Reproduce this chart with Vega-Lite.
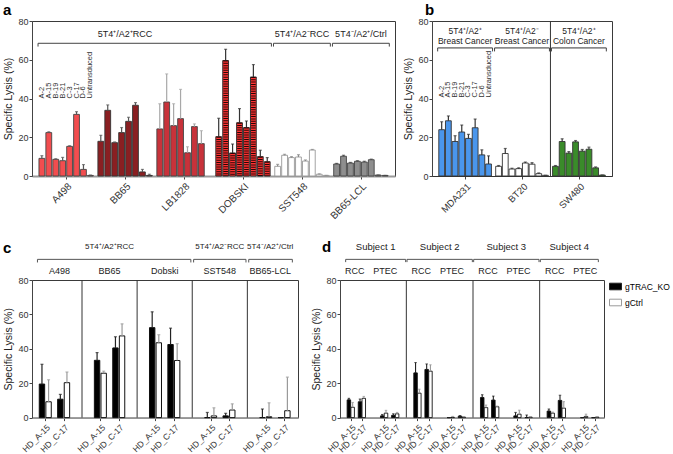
{
  "$schema": "https://vega.github.io/schema/vega-lite/v6.json",
  "padding": {"left": 2, "top": 2, "right": 0, "bottom": 0},
  "config": {
    "font": "Liberation Sans",
    "view": {"stroke": "#3a3a3a", "strokeWidth": 1},
    "axis": {"grid": false, "labelFont": "Liberation Sans", "titleFont": "Liberation Sans", "labelColor": "#333", "titleColor": "#222", "domainColor": "#444", "tickColor": "#444", "tickSize": 3, "labelFontSize": 9, "titleFontSize": 10.5, "titleFontWeight": "normal", "labelPadding": 1, "titlePadding": 4},
    "text": {"font": "Liberation Sans", "color": "#222"},
    "title": {"font": "Liberation Sans", "color": "#000"}
  },
  "datasets": {
    "a": [
      {"line": "A498", "clone": "A-2", "lysis": 9.1, "upper": 10.5},
      {"line": "A498", "clone": "A-15", "lysis": 22.4, "upper": 22.8},
      {"line": "A498", "clone": "B-19", "lysis": 8.6, "upper": 8.9},
      {"line": "A498", "clone": "B-21", "lysis": 7.9, "upper": 9.6},
      {"line": "A498", "clone": "C-3", "lysis": 15.3, "upper": 15.6},
      {"line": "A498", "clone": "C-17", "lysis": 31.8, "upper": 33.2},
      {"line": "A498", "clone": "D-6", "lysis": 3.4, "upper": 5.9},
      {"line": "A498", "clone": "Untransduced", "lysis": 0.3, "upper": 0.5},
      {"line": "BB65", "clone": "A-2", "lysis": 17.9, "upper": 21},
      {"line": "BB65", "clone": "A-15", "lysis": 33.9, "upper": 36.7},
      {"line": "BB65", "clone": "B-19", "lysis": 17.2, "upper": 17.6},
      {"line": "BB65", "clone": "B-21", "lysis": 22.4, "upper": 25},
      {"line": "BB65", "clone": "C-3", "lysis": 28.2, "upper": 30.3},
      {"line": "BB65", "clone": "C-17", "lysis": 36.5, "upper": 37.9},
      {"line": "BB65", "clone": "D-6", "lysis": 2.1, "upper": 3.4},
      {"line": "BB65", "clone": "Untransduced", "lysis": 0.3, "upper": 0.9},
      {"line": "LB1828", "clone": "A-2", "lysis": 24.3, "upper": 37.3},
      {"line": "LB1828", "clone": "A-15", "lysis": 38.2, "upper": 52.7},
      {"line": "LB1828", "clone": "B-19", "lysis": 26, "upper": 37.3},
      {"line": "LB1828", "clone": "B-21", "lysis": 29.6, "upper": 44.7},
      {"line": "LB1828", "clone": "C-3", "lysis": 12, "upper": 15.1},
      {"line": "LB1828", "clone": "C-17", "lysis": 25.5, "upper": 26.9},
      {"line": "LB1828", "clone": "D-6", "lysis": 16.7, "upper": 23.4},
      {"line": "DOBSKI", "clone": "A-2", "lysis": 20.3, "upper": 29.8},
      {"line": "DOBSKI", "clone": "A-15", "lysis": 59.6, "upper": 65.4},
      {"line": "DOBSKI", "clone": "B-19", "lysis": 11.9, "upper": 16.5},
      {"line": "DOBSKI", "clone": "B-21", "lysis": 27.5, "upper": 34.8},
      {"line": "DOBSKI", "clone": "C-3", "lysis": 25, "upper": 28.4},
      {"line": "DOBSKI", "clone": "C-17", "lysis": 51.1, "upper": 57.5},
      {"line": "DOBSKI", "clone": "D-6", "lysis": 10, "upper": 13.3},
      {"line": "DOBSKI", "clone": "Untransduced", "lysis": 7.4, "upper": 9.5},
      {"line": "SST548", "clone": "A-2", "lysis": 5, "upper": 6},
      {"line": "SST548", "clone": "A-15", "lysis": 10.7, "upper": 11.2},
      {"line": "SST548", "clone": "B-19", "lysis": 9.5, "upper": 10},
      {"line": "SST548", "clone": "B-21", "lysis": 9.8, "upper": 11},
      {"line": "SST548", "clone": "C-3", "lysis": 7.7, "upper": 8.3},
      {"line": "SST548", "clone": "C-17", "lysis": 13.4, "upper": 13.7},
      {"line": "SST548", "clone": "D-6", "lysis": 0.9, "upper": 1.1},
      {"line": "SST548", "clone": "Untransduced", "lysis": 0.3, "upper": 0.3},
      {"line": "BB65-LCL", "clone": "A-2", "lysis": 6.2, "upper": 6.5},
      {"line": "BB65-LCL", "clone": "A-15", "lysis": 10.2, "upper": 10.7},
      {"line": "BB65-LCL", "clone": "B-19", "lysis": 6.7, "upper": 7},
      {"line": "BB65-LCL", "clone": "B-21", "lysis": 7.6, "upper": 7.9},
      {"line": "BB65-LCL", "clone": "C-3", "lysis": 7.2, "upper": 7.6},
      {"line": "BB65-LCL", "clone": "C-17", "lysis": 8.4, "upper": 8.7},
      {"line": "BB65-LCL", "clone": "D-6", "lysis": 0.5, "upper": 0.5},
      {"line": "BB65-LCL", "clone": "Untransduced", "lysis": 0.3, "upper": 0.3}
    ],
    "hdrA": [
      {"label": "5T4⁺/A2⁺RCC", "from": "A498", "to": "DOBSKI", "over": "BB65"},
      {"label": "5T4⁺/A2⁻RCC", "from": "SST548", "to": "SST548", "over": "SST548"},
      {"label": "5T4⁻/A2⁺/Ctrl", "from": "BB65-LCL", "to": "BB65-LCL", "over": "BB65-LCL"}
    ],
    "b": [
      {"line": "MDA231", "clone": "A-2", "lysis": 23.9, "upper": 28},
      {"line": "MDA231", "clone": "A-15", "lysis": 28.5, "upper": 31},
      {"line": "MDA231", "clone": "B-19", "lysis": 17.8, "upper": 20.8},
      {"line": "MDA231", "clone": "B-21", "lysis": 22.7, "upper": 26.3},
      {"line": "MDA231", "clone": "C-3", "lysis": 19.4, "upper": 21.5},
      {"line": "MDA231", "clone": "C-17", "lysis": 24.9, "upper": 29.4},
      {"line": "MDA231", "clone": "D-6", "lysis": 10.9, "upper": 13.5},
      {"line": "MDA231", "clone": "Untransduced", "lysis": 6.2, "upper": 10.4},
      {"line": "BT20", "clone": "A-2", "lysis": 5, "upper": 5.4},
      {"line": "BT20", "clone": "A-15", "lysis": 11.6, "upper": 14.2},
      {"line": "BT20", "clone": "B-19", "lysis": 3.6, "upper": 4},
      {"line": "BT20", "clone": "B-21", "lysis": 3.8, "upper": 4.2},
      {"line": "BT20", "clone": "C-3", "lysis": 6.7, "upper": 7.2},
      {"line": "BT20", "clone": "C-17", "lysis": 6.1, "upper": 6.9},
      {"line": "BT20", "clone": "D-6", "lysis": 1.2, "upper": 1.6},
      {"line": "BT20", "clone": "Untransduced", "lysis": 0.35, "upper": 0.35},
      {"line": "SW480", "clone": "A-2", "lysis": 5, "upper": 5.4},
      {"line": "SW480", "clone": "A-15", "lysis": 17.8, "upper": 19.2},
      {"line": "SW480", "clone": "B-19", "lysis": 11.8, "upper": 12.6},
      {"line": "SW480", "clone": "B-21", "lysis": 17.6, "upper": 18.3},
      {"line": "SW480", "clone": "C-3", "lysis": 12.8, "upper": 13.7},
      {"line": "SW480", "clone": "C-17", "lysis": 13.8, "upper": 14.9},
      {"line": "SW480", "clone": "D-6", "lysis": 4.2, "upper": 4.7},
      {"line": "SW480", "clone": "Untransduced", "lysis": 0.5, "upper": 0.5}
    ],
    "hdrB": [
      {"l1": "5T4⁺/A2⁺", "l2": "Breast Cancer", "line": "MDA231"},
      {"l1": "5T4⁺/A2⁻", "l2": "Breast Cancer", "line": "BT20"},
      {"l1": "5T4⁺/A2⁺", "l2": "Colon Cancer", "line": "SW480"}
    ],
    "c": [
      {"line": "A498", "target": "HD_A-15", "ko": "gTRAC_KO", "lysis": 19.5, "upper": 31},
      {"line": "A498", "target": "HD_A-15", "ko": "gCtrl", "lysis": 9.2, "upper": 22},
      {"line": "A498", "target": "HD_C-17", "ko": "gTRAC_KO", "lysis": 10.7, "upper": 13.5},
      {"line": "A498", "target": "HD_C-17", "ko": "gCtrl", "lysis": 20.3, "upper": 26.5},
      {"line": "BB65", "target": "HD_A-15", "ko": "gTRAC_KO", "lysis": 33.3, "upper": 37.8},
      {"line": "BB65", "target": "HD_A-15", "ko": "gCtrl", "lysis": 25.8, "upper": 27},
      {"line": "BB65", "target": "HD_C-17", "ko": "gTRAC_KO", "lysis": 40.5, "upper": 47},
      {"line": "BB65", "target": "HD_C-17", "ko": "gCtrl", "lysis": 47.5, "upper": 54.5},
      {"line": "Dobski", "target": "HD_A-15", "ko": "gTRAC_KO", "lysis": 52.3, "upper": 61.5},
      {"line": "Dobski", "target": "HD_A-15", "ko": "gCtrl", "lysis": 43.5, "upper": 48.2},
      {"line": "Dobski", "target": "HD_C-17", "ko": "gTRAC_KO", "lysis": 42.5, "upper": 52},
      {"line": "Dobski", "target": "HD_C-17", "ko": "gCtrl", "lysis": 33.2, "upper": 43},
      {"line": "SST548", "target": "HD_A-15", "ko": "gTRAC_KO", "lysis": 0, "upper": 3},
      {"line": "SST548", "target": "HD_A-15", "ko": "gCtrl", "lysis": 1, "upper": 5.7},
      {"line": "SST548", "target": "HD_C-17", "ko": "gTRAC_KO", "lysis": 1, "upper": 2.5},
      {"line": "SST548", "target": "HD_C-17", "ko": "gCtrl", "lysis": 4.4, "upper": 8},
      {"line": "BB65-LCL", "target": "HD_A-15", "ko": "gTRAC_KO", "lysis": 0, "upper": 5},
      {"line": "BB65-LCL", "target": "HD_A-15", "ko": "gCtrl", "lysis": 0.5, "upper": 8.6},
      {"line": "BB65-LCL", "target": "HD_C-17", "ko": "gTRAC_KO", "lysis": 0, "upper": 0},
      {"line": "BB65-LCL", "target": "HD_C-17", "ko": "gCtrl", "lysis": 4, "upper": 23.5}
    ],
    "hdrC": [
      {"label": "5T4⁺/A2⁺RCC", "from": "A498", "to": "Dobski", "over": "BB65"},
      {"label": "5T4⁺/A2⁻RCC", "from": "SST548", "to": "SST548", "over": "SST548"},
      {"label": "5T4⁻/A2⁺/Ctrl", "from": "BB65-LCL", "to": "BB65-LCL", "over": "BB65-LCL"}
    ],
    "d": [
      {"subject": "Subject 1", "tissue": "RCC", "target": "HD_A-15", "ko": "gTRAC_KO", "lysis": 10.3, "upper": 11.2},
      {"subject": "Subject 1", "tissue": "RCC", "target": "HD_A-15", "ko": "gCtrl", "lysis": 6, "upper": 8.8},
      {"subject": "Subject 1", "tissue": "RCC", "target": "HD_C-17", "ko": "gTRAC_KO", "lysis": 9.2, "upper": 10.8},
      {"subject": "Subject 1", "tissue": "RCC", "target": "HD_C-17", "ko": "gCtrl", "lysis": 11.2, "upper": 12.3},
      {"subject": "Subject 1", "tissue": "PTEC", "target": "HD_A-15", "ko": "gTRAC_KO", "lysis": 1, "upper": 1.8},
      {"subject": "Subject 1", "tissue": "PTEC", "target": "HD_A-15", "ko": "gCtrl", "lysis": 2.6, "upper": 4.2},
      {"subject": "Subject 1", "tissue": "PTEC", "target": "HD_C-17", "ko": "gTRAC_KO", "lysis": 1.3, "upper": 2.2},
      {"subject": "Subject 1", "tissue": "PTEC", "target": "HD_C-17", "ko": "gCtrl", "lysis": 2.2, "upper": 3},
      {"subject": "Subject 2", "tissue": "RCC", "target": "HD_A-15", "ko": "gTRAC_KO", "lysis": 26, "upper": 32},
      {"subject": "Subject 2", "tissue": "RCC", "target": "HD_A-15", "ko": "gCtrl", "lysis": 14.2, "upper": 16.5},
      {"subject": "Subject 2", "tissue": "RCC", "target": "HD_C-17", "ko": "gTRAC_KO", "lysis": 28, "upper": 31.2},
      {"subject": "Subject 2", "tissue": "RCC", "target": "HD_C-17", "ko": "gCtrl", "lysis": 27, "upper": 30.7},
      {"subject": "Subject 2", "tissue": "PTEC", "target": "HD_A-15", "ko": "gTRAC_KO", "lysis": 0, "upper": 0},
      {"subject": "Subject 2", "tissue": "PTEC", "target": "HD_A-15", "ko": "gCtrl", "lysis": 0.2, "upper": 0.7},
      {"subject": "Subject 2", "tissue": "PTEC", "target": "HD_C-17", "ko": "gTRAC_KO", "lysis": 0.8, "upper": 1.2},
      {"subject": "Subject 2", "tissue": "PTEC", "target": "HD_C-17", "ko": "gCtrl", "lysis": 0.3, "upper": 0.5},
      {"subject": "Subject 3", "tissue": "RCC", "target": "HD_A-15", "ko": "gTRAC_KO", "lysis": 11.7, "upper": 13.3},
      {"subject": "Subject 3", "tissue": "RCC", "target": "HD_A-15", "ko": "gCtrl", "lysis": 5.8, "upper": 7.3},
      {"subject": "Subject 3", "tissue": "RCC", "target": "HD_C-17", "ko": "gTRAC_KO", "lysis": 10.2, "upper": 12.5},
      {"subject": "Subject 3", "tissue": "RCC", "target": "HD_C-17", "ko": "gCtrl", "lysis": 6.3, "upper": 6.7},
      {"subject": "Subject 3", "tissue": "PTEC", "target": "HD_A-15", "ko": "gTRAC_KO", "lysis": 1, "upper": 3},
      {"subject": "Subject 3", "tissue": "PTEC", "target": "HD_A-15", "ko": "gCtrl", "lysis": 2, "upper": 4.3},
      {"subject": "Subject 3", "tissue": "PTEC", "target": "HD_C-17", "ko": "gTRAC_KO", "lysis": 0, "upper": 1.5},
      {"subject": "Subject 3", "tissue": "PTEC", "target": "HD_C-17", "ko": "gCtrl", "lysis": 0.3, "upper": 0.4},
      {"subject": "Subject 4", "tissue": "RCC", "target": "HD_A-15", "ko": "gTRAC_KO", "lysis": 3.8, "upper": 5},
      {"subject": "Subject 4", "tissue": "RCC", "target": "HD_A-15", "ko": "gCtrl", "lysis": 2.6, "upper": 3.2},
      {"subject": "Subject 4", "tissue": "RCC", "target": "HD_C-17", "ko": "gTRAC_KO", "lysis": 10, "upper": 13},
      {"subject": "Subject 4", "tissue": "RCC", "target": "HD_C-17", "ko": "gCtrl", "lysis": 5.5, "upper": 9.3},
      {"subject": "Subject 4", "tissue": "PTEC", "target": "HD_A-15", "ko": "gTRAC_KO", "lysis": 0, "upper": 0},
      {"subject": "Subject 4", "tissue": "PTEC", "target": "HD_A-15", "ko": "gCtrl", "lysis": 0.7, "upper": 2},
      {"subject": "Subject 4", "tissue": "PTEC", "target": "HD_C-17", "ko": "gTRAC_KO", "lysis": 0, "upper": 0},
      {"subject": "Subject 4", "tissue": "PTEC", "target": "HD_C-17", "ko": "gCtrl", "lysis": 0.3, "upper": 0.4}
    ]
  },
  "spacing": 17,
  "resolve": {"scale": {"fill": "independent", "stroke": "independent", "color": "independent"}},
  "vconcat": [
    {
      "bounds": "flush",
      "spacing": 37,
      "resolve": {"scale": {"fill": "independent", "stroke": "independent", "color": "independent"}},
      "hconcat": [
        {
          "width": 363, "height": 155,
          "title": {"text": "a", "anchor": "start", "frame": "group", "dx": -29, "offset": -1, "fontSize": 15, "fontWeight": "bold"},
          "layer": [
            {
              "data": {"name": "a"},
              "transform": [{"calculate": "indexof(['A498','BB65','LB1828','DOBSKI','SST548','BB65-LCL'], datum.line)*8.5 + indexof(['A-2','A-15','B-19','B-21','C-3','C-17','D-6','Untransduced'], datum.clone)", "as": "pos"}],
              "layer": [
                {"mark": {"type": "bar", "orient": "vertical", "size": 5.8, "strokeWidth": 0.9},
                 "encoding": {
                   "x": {"field": "pos", "type": "quantitative", "scale": {"domain": [-0.7, 50.2], "nice": false, "zero": false}, "axis": {"values": [3.5, 12, 20.5, 29, 37.5, 46], "tickCount": 50, "labelExpr": "['A498','BB65','LB1828','DOBSKI','SST548','BB65-LCL'][round((datum.value-3.5)/8.5)]", "labelAngle": -45, "labelAlign": "right", "labelBaseline": "top", "labelFontSize": 10, "title": null, "domainColor": "#9a9a9a", "domainWidth": 2, "labelPadding": 2, "labelOverlap": false}},
                   "y": {"field": "lysis", "type": "quantitative", "scale": {"domain": [0, 80], "nice": false}, "axis": {"values": [0, 20, 40, 60, 80], "tickCount": 50, "title": "Specific Lysis (%)", "labelOverlap": false}},
                   "fill": {"field": "line", "type": "nominal", "scale": {"domain": ["A498","BB65","LB1828","DOBSKI","SST548","BB65-LCL"], "range": ["#f24d4f","#8a1f22","#c8323a","#ff3434","#ffffff","#8e8e8e"]}, "legend": null},
                   "stroke": {"field": "line", "type": "nominal", "scale": {"domain": ["A498","BB65","LB1828","DOBSKI","SST548","BB65-LCL"], "range": ["#444444","#333333","#444444","#222222","#999999","#444444"]}, "legend": null}}},
                {"mark": {"type": "rule", "strokeWidth": 1.2},
                 "encoding": {
                   "x": {"field": "pos", "type": "quantitative"},
                   "y": {"field": "lysis", "type": "quantitative"},
                   "y2": {"field": "upper"},
                   "color": {"field": "line", "type": "nominal", "scale": {"domain": ["A498","BB65","LB1828","DOBSKI","SST548","BB65-LCL"], "range": ["#555555","#555555","#a8a8a8","#333333","#8a8a8a","#444444"]}, "legend": null}}},
                {"mark": {"type": "tick", "orient": "horizontal", "size": 3, "thickness": 1.2},
                 "encoding": {
                   "x": {"field": "pos", "type": "quantitative"},
                   "y": {"field": "upper", "type": "quantitative"},
                   "color": {"field": "line", "type": "nominal", "legend": null}}},
                {"transform": [{"filter": "datum.line == 'DOBSKI'"}],
                 "mark": {"type": "rule", "strokeWidth": 4.6, "strokeDash": [1, 1.3], "color": "#2b0303"},
                 "encoding": {
                   "x": {"field": "pos", "type": "quantitative"},
                   "y": {"field": "lysis", "type": "quantitative"},
                   "y2": {"datum": 0}}},
                {"transform": [{"filter": "datum.line == 'A498'"}],
                 "mark": {"type": "text", "angle": 270, "align": "left", "baseline": "middle", "fontSize": 7.5, "color": "#333"},
                 "encoding": {
                   "x": {"field": "pos", "type": "quantitative"},
                   "y": {"datum": 40, "type": "quantitative"},
                   "text": {"field": "clone"}}}
              ]
            },
            {
              "data": {"name": "hdrA"},
              "transform": [
                {"calculate": "max(indexof(['A498','BB65','LB1828','DOBSKI','SST548','BB65-LCL'], datum.from)*8.5 - 0.6, -0.55)", "as": "x0"},
                {"calculate": "min(indexof(['A498','BB65','LB1828','DOBSKI','SST548','BB65-LCL'], datum.to)*8.5 + 7.6, 50.1)", "as": "x1"},
                {"calculate": "indexof(['A498','BB65','LB1828','DOBSKI','SST548','BB65-LCL'], datum.over)*8.5 + 3.5", "as": "tx"}
              ],
              "layer": [
                {"mark": {"type": "rule", "color": "#444", "strokeWidth": 1},
                 "encoding": {"x": {"field": "x0", "type": "quantitative"}, "x2": {"field": "x1"}, "y": {"datum": 68.5, "type": "quantitative"}}},
                {"mark": {"type": "rule", "color": "#444", "strokeWidth": 1},
                 "encoding": {"x": {"field": "x0", "type": "quantitative"}, "y": {"datum": 66.8, "type": "quantitative"}, "y2": {"datum": 68.5}}},
                {"mark": {"type": "rule", "color": "#444", "strokeWidth": 1},
                 "encoding": {"x": {"field": "x1", "type": "quantitative"}, "y": {"datum": 66.8, "type": "quantitative"}, "y2": {"datum": 68.5}}},
                {"mark": {"type": "text", "fontSize": 9, "baseline": "middle", "color": "#222"},
                 "encoding": {"x": {"field": "tx", "type": "quantitative"}, "y": {"datum": 73.4, "type": "quantitative"}, "text": {"field": "label"}}}
              ]
            }
          ]
        },
        {
          "width": 180, "height": 155,
          "title": {"text": "b", "anchor": "start", "frame": "group", "dx": -7, "offset": -1, "fontSize": 15, "fontWeight": "bold"},
          "layer": [
            {
              "data": {"name": "b"},
              "transform": [{"calculate": "indexof(['MDA231','BT20','SW480'], datum.line)*8.5 + indexof(['A-2','A-15','B-19','B-21','C-3','C-17','D-6','Untransduced'], datum.clone)", "as": "pos"}],
              "layer": [
                {"mark": {"type": "bar", "orient": "vertical", "size": 5.8, "strokeWidth": 0.9, "stroke": "#333"},
                 "encoding": {
                   "x": {"field": "pos", "type": "quantitative", "scale": {"domain": [-0.7, 24.7], "nice": false, "zero": false}, "axis": {"values": [3.5, 12, 20.5], "tickCount": 50, "labelExpr": "['MDA231','BT20','SW480'][round((datum.value-3.5)/8.5)]", "labelAngle": -45, "labelAlign": "right", "labelBaseline": "top", "labelFontSize": 9.5, "title": null, "domainColor": "#333", "labelPadding": 2, "labelOverlap": false}},
                   "y": {"field": "lysis", "type": "quantitative", "scale": {"domain": [0, 80], "nice": false}, "axis": {"values": [0, 20, 40, 60, 80], "tickCount": 50, "title": "Specific Lysis (%)", "labelOverlap": false}},
                   "fill": {"field": "line", "type": "nominal", "scale": {"domain": ["MDA231","BT20","SW480"], "range": ["#4a96ec","#ffffff","#3a8b2a"]}, "legend": null}}},
                {"mark": {"type": "rule", "strokeWidth": 1.2, "color": "#333"},
                 "encoding": {
                   "x": {"field": "pos", "type": "quantitative"},
                   "y": {"field": "lysis", "type": "quantitative"},
                   "y2": {"field": "upper"}}},
                {"mark": {"type": "tick", "orient": "horizontal", "size": 3, "thickness": 1.2, "color": "#333"},
                 "encoding": {
                   "x": {"field": "pos", "type": "quantitative"},
                   "y": {"field": "upper", "type": "quantitative"}}},
                {"transform": [{"filter": "datum.line == 'MDA231'"}],
                 "mark": {"type": "text", "angle": 270, "align": "left", "baseline": "middle", "fontSize": 7.5, "color": "#333"},
                 "encoding": {
                   "x": {"field": "pos", "type": "quantitative"},
                   "y": {"datum": 40.5, "type": "quantitative"},
                   "text": {"field": "clone"}}}
              ]
            },
            {
              "data": {"name": "hdrB"},
              "transform": [
                {"calculate": "indexof(['MDA231','BT20','SW480'], datum.line)", "as": "g"},
                {"calculate": "max(datum.g*8.5 - 0.6, -0.6)", "as": "x0"},
                {"calculate": "min(datum.g*8.5 + 7.6, 24.6)", "as": "x1"},
                {"calculate": "datum.g*8.5 + 3.5", "as": "tx"},
                {"calculate": "datum.g*8.5 - 0.75", "as": "sx"}
              ],
              "layer": [
                {"mark": {"type": "rule", "color": "#333", "strokeWidth": 1},
                 "encoding": {"x": {"field": "x0", "type": "quantitative"}, "x2": {"field": "x1"}, "y": {"datum": 66.1, "type": "quantitative"}}},
                {"mark": {"type": "rule", "color": "#444", "strokeWidth": 1},
                 "encoding": {"x": {"field": "x0", "type": "quantitative"}, "y": {"datum": 64.3, "type": "quantitative"}, "y2": {"datum": 66.1}}},
                {"mark": {"type": "rule", "color": "#444", "strokeWidth": 1},
                 "encoding": {"x": {"field": "x1", "type": "quantitative"}, "y": {"datum": 64.3, "type": "quantitative"}, "y2": {"datum": 66.1}}},
                {"transform": [{"filter": "datum.line == 'SW480'"}],
                 "mark": {"type": "rule", "color": "#333", "strokeWidth": 1},
                 "encoding": {"x": {"field": "sx", "type": "quantitative"}, "y": {"datum": 0, "type": "quantitative"}, "y2": {"datum": 80}}},
                {"mark": {"type": "text", "fontSize": 8.5, "baseline": "middle", "color": "#222"},
                 "encoding": {"x": {"field": "tx", "type": "quantitative"}, "y": {"datum": 74.8, "type": "quantitative"}, "text": {"field": "l1"}}},
                {"mark": {"type": "text", "fontSize": 8.5, "baseline": "middle", "color": "#222"},
                 "encoding": {"x": {"field": "tx", "type": "quantitative"}, "y": {"datum": 69.5, "type": "quantitative"}, "text": {"field": "l2"}}}
              ]
            }
          ]
        }
      ]
    },
    {
      "bounds": "flush",
      "spacing": 42,
      "resolve": {"scale": {"fill": "independent", "stroke": "independent", "color": "independent"}},
      "hconcat": [
        {
          "width": 266, "height": 137.6,
          "title": {"text": "c", "anchor": "start", "frame": "group", "dx": -29, "offset": -13, "fontSize": 15, "fontWeight": "bold"},
          "layer": [
            {
              "data": {"name": "c"},
              "transform": [{"calculate": "indexof(['A498','BB65','Dobski','SST548','BB65-LCL'], datum.line)*6 + (datum.target == 'HD_C-17' ? 2 : 0) + (datum.ko == 'gTRAC_KO' ? -0.36 : 0.36)", "as": "pos"}],
              "layer": [
                {"mark": {"type": "bar", "orient": "vertical", "size": 5.4, "strokeWidth": 1, "stroke": "#111"},
                 "encoding": {
                   "x": {"field": "pos", "type": "quantitative", "scale": {"domain": [-0.9, 26.97], "nice": false, "zero": false}, "axis": {"values": [0, 2, 6, 8, 12, 14, 18, 20, 24, 26], "tickCount": 50, "labelExpr": "datum.value % 6 == 0 ? 'HD_A-15' : 'HD_C-17'", "labelAngle": -45, "labelAlign": "right", "labelBaseline": "top", "labelFontSize": 8.5, "title": null, "domainColor": "#9a9a9a", "domainWidth": 1.5, "labelPadding": 2, "labelOverlap": false}},
                   "y": {"field": "lysis", "type": "quantitative", "scale": {"domain": [0, 80], "nice": false}, "axis": {"values": [0, 20, 40, 60, 80], "tickCount": 50, "title": "Specific Lysis (%)", "labelOverlap": false}},
                   "fill": {"field": "ko", "type": "nominal", "scale": {"domain": ["gTRAC_KO","gCtrl"], "range": ["#000000","#ffffff"]}, "legend": null}}},
                {"mark": {"type": "rule", "strokeWidth": 1.2},
                 "encoding": {
                   "x": {"field": "pos", "type": "quantitative"},
                   "y": {"field": "lysis", "type": "quantitative"},
                   "y2": {"field": "upper"},
                   "color": {"field": "ko", "type": "nominal", "scale": {"domain": ["gTRAC_KO","gCtrl"], "range": ["#222222","#9a9a9a"]}, "legend": null}}},
                {"mark": {"type": "tick", "orient": "horizontal", "size": 3, "thickness": 1.2},
                 "encoding": {
                   "x": {"field": "pos", "type": "quantitative"},
                   "y": {"field": "upper", "type": "quantitative"},
                   "color": {"field": "ko", "type": "nominal", "legend": null}}}
              ]
            },
            {
              "data": {"name": "c"},
              "transform": [
                {"aggregate": [{"op": "count", "as": "n"}], "groupby": ["line"]},
                {"calculate": "indexof(['A498','BB65','Dobski','SST548','BB65-LCL'], datum.line)", "as": "g"},
                {"calculate": "(max(datum.g*6 - 2, -0.9) + min(datum.g*6 + 4, 26.97))/2", "as": "cx"},
                {"calculate": "datum.g*6 + 4", "as": "sx"}
              ],
              "layer": [
                {"mark": {"type": "text", "fontSize": 9, "baseline": "middle", "color": "#222"},
                 "encoding": {"x": {"field": "cx", "type": "quantitative"}, "y": {"datum": 85.5, "type": "quantitative"}, "text": {"field": "line"}}},
                {"transform": [{"filter": "datum.g < 4"}],
                 "mark": {"type": "rule", "color": "#333", "strokeWidth": 1},
                 "encoding": {"x": {"field": "sx", "type": "quantitative"}, "y": {"datum": 0, "type": "quantitative"}, "y2": {"datum": 80}}}
              ]
            },
            {
              "data": {"name": "hdrC"},
              "transform": [
                {"calculate": "max(indexof(['A498','BB65','Dobski','SST548','BB65-LCL'], datum.from)*6 - 1.85, -0.85)", "as": "x0"},
                {"calculate": "min(indexof(['A498','BB65','Dobski','SST548','BB65-LCL'], datum.to)*6 + 3.85, 26.9)", "as": "x1"},
                {"calculate": "indexof(['A498','BB65','Dobski','SST548','BB65-LCL'], datum.over)", "as": "go"},
                {"calculate": "(max(datum.go*6 - 2, -0.9) + min(datum.go*6 + 4, 26.97))/2", "as": "tx"}
              ],
              "layer": [
                {"mark": {"type": "rule", "color": "#555", "strokeWidth": 1},
                 "encoding": {"x": {"field": "x0", "type": "quantitative"}, "x2": {"field": "x1"}, "y": {"datum": 92, "type": "quantitative"}}},
                {"mark": {"type": "rule", "color": "#555", "strokeWidth": 1},
                 "encoding": {"x": {"field": "x0", "type": "quantitative"}, "y": {"datum": 90.2, "type": "quantitative"}, "y2": {"datum": 92}}},
                {"mark": {"type": "rule", "color": "#555", "strokeWidth": 1},
                 "encoding": {"x": {"field": "x1", "type": "quantitative"}, "y": {"datum": 90.2, "type": "quantitative"}, "y2": {"datum": 92}}},
                {"mark": {"type": "text", "fontSize": 8, "baseline": "middle", "color": "#222"},
                 "encoding": {"x": {"field": "tx", "type": "quantitative"}, "y": {"datum": 99.4, "type": "quantitative"}, "text": {"field": "label"}}}
              ]
            }
          ]
        },
        {
          "width": 264, "height": 137.6,
          "title": {"text": "d", "anchor": "start", "frame": "group", "dx": -18, "offset": -13, "fontSize": 15, "fontWeight": "bold"},
          "layer": [
            {
              "data": {"name": "d"},
              "transform": [{"calculate": "indexof(['Subject 1','Subject 2','Subject 3','Subject 4'], datum.subject)*6 + (datum.tissue == 'PTEC' ? 3 : 0) + (datum.target == 'HD_C-17' ? 1 : 0) + (datum.ko == 'gTRAC_KO' ? -0.17 : 0.17)", "as": "pos"}],
              "layer": [
                {"mark": {"type": "bar", "orient": "vertical", "size": 3.5, "strokeWidth": 0.9, "stroke": "#111"},
                 "encoding": {
                   "x": {"field": "pos", "type": "quantitative", "scale": {"domain": [-0.52, 22.34], "nice": false, "zero": false}, "axis": {"values": [0, 1, 3, 4, 6, 7, 9, 10, 12, 13, 15, 16, 18, 19, 21, 22], "tickCount": 50, "labelExpr": "datum.value % 3 == 0 ? 'HD_A-15' : 'HD_C-17'", "labelAngle": -45, "labelAlign": "right", "labelBaseline": "top", "labelFontSize": 8.5, "title": null, "domainColor": "#9a9a9a", "domainWidth": 1.5, "labelPadding": 2, "labelOverlap": false}},
                   "y": {"field": "lysis", "type": "quantitative", "scale": {"domain": [0, 80], "nice": false}, "axis": {"values": [0, 20, 40, 60, 80], "tickCount": 50, "title": "Specific Lysis (%)", "labelOverlap": false}},
                   "fill": {"field": "ko", "type": "nominal", "scale": {"domain": ["gTRAC_KO","gCtrl"], "range": ["#000000","#ffffff"]}, "legend": {"title": null, "orient": "right", "offset": 5, "symbolType": "M-1,-0.55H1V0.55H-1Z", "symbolSize": 144, "symbolStrokeColor": "#000", "symbolStrokeWidth": 1, "labelFontSize": 8.5, "labelOffset": 3, "labelColor": "#000", "rowPadding": 4}}}},
                {"mark": {"type": "rule", "strokeWidth": 1.1},
                 "encoding": {
                   "x": {"field": "pos", "type": "quantitative"},
                   "y": {"field": "lysis", "type": "quantitative"},
                   "y2": {"field": "upper"},
                   "color": {"field": "ko", "type": "nominal", "scale": {"domain": ["gTRAC_KO","gCtrl"], "range": ["#222222","#9a9a9a"]}, "legend": null}}},
                {"mark": {"type": "tick", "orient": "horizontal", "size": 2.5, "thickness": 1.1},
                 "encoding": {
                   "x": {"field": "pos", "type": "quantitative"},
                   "y": {"field": "upper", "type": "quantitative"},
                   "color": {"field": "ko", "type": "nominal", "legend": null}}}
              ]
            },
            {
              "data": {"name": "d"},
              "transform": [
                {"aggregate": [{"op": "count", "as": "n"}], "groupby": ["subject"]},
                {"calculate": "indexof(['Subject 1','Subject 2','Subject 3','Subject 4'], datum.subject)", "as": "s"},
                {"calculate": "max(datum.s*6 - 1, -0.52) + 0.06", "as": "x0"},
                {"calculate": "min(datum.s*6 + 5, 22.34) - 0.06", "as": "x1"},
                {"calculate": "(max(datum.s*6 - 1, -0.52) + min(datum.s*6 + 5, 22.34))/2", "as": "cx"},
                {"calculate": "datum.s*6 + 5", "as": "sx"}
              ],
              "layer": [
                {"mark": {"type": "text", "fontSize": 9.5, "baseline": "middle", "color": "#222"},
                 "encoding": {"x": {"field": "cx", "type": "quantitative"}, "y": {"datum": 99.4, "type": "quantitative"}, "text": {"field": "subject"}}},
                {"mark": {"type": "rule", "color": "#555", "strokeWidth": 1},
                 "encoding": {"x": {"field": "x0", "type": "quantitative"}, "x2": {"field": "x1"}, "y": {"datum": 92, "type": "quantitative"}}},
                {"mark": {"type": "rule", "color": "#555", "strokeWidth": 1},
                 "encoding": {"x": {"field": "x0", "type": "quantitative"}, "y": {"datum": 90.4, "type": "quantitative"}, "y2": {"datum": 92}}},
                {"mark": {"type": "rule", "color": "#555", "strokeWidth": 1},
                 "encoding": {"x": {"field": "x1", "type": "quantitative"}, "y": {"datum": 90.4, "type": "quantitative"}, "y2": {"datum": 92}}},
                {"transform": [{"filter": "datum.s < 3"}],
                 "mark": {"type": "rule", "color": "#333", "strokeWidth": 1},
                 "encoding": {"x": {"field": "sx", "type": "quantitative"}, "y": {"datum": 0, "type": "quantitative"}, "y2": {"datum": 80}}}
              ]
            },
            {
              "data": {"name": "d"},
              "transform": [
                {"aggregate": [{"op": "count", "as": "n"}], "groupby": ["subject", "tissue"]},
                {"calculate": "indexof(['Subject 1','Subject 2','Subject 3','Subject 4'], datum.subject)*6 + (datum.tissue == 'RCC' ? 0.35 : 3.1)", "as": "tx"}
              ],
              "mark": {"type": "text", "fontSize": 9, "baseline": "middle", "color": "#222"},
              "encoding": {"x": {"field": "tx", "type": "quantitative"}, "y": {"datum": 85.5, "type": "quantitative"}, "text": {"field": "tissue"}}
            }
          ]
        }
      ]
    }
  ]
}
